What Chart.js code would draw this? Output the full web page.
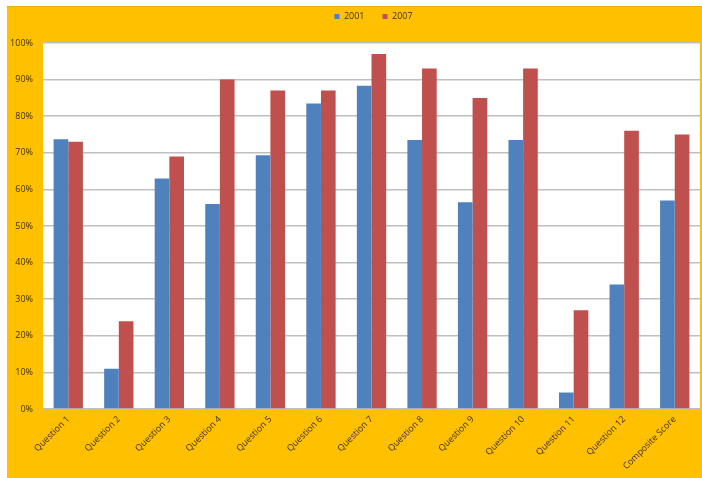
<!DOCTYPE html>
<html>
<head>
<meta charset="utf-8">
<script src="https://cdn.jsdelivr.net/npm/chart.js@4.4.1/dist/chart.umd.min.js"></script>
<style>
html,body{margin:0;padding:0;background:#fff;}
#wrap{position:absolute;left:0;top:0;width:702px;height:478px;}
</style>
</head>
<body>
<div id="wrap"><canvas id="c" width="702" height="478"></canvas></div>
<script>
const categories = ["Question 1","Question 2","Question 3","Question 4","Question 5","Question 6","Question 7","Question 8","Question 9","Question 10","Question 11","Question 12","Composite Score"];
const seriesNames = ["2001","2007"];
const values2001 = [73.7, 11, 63, 56, 69.3, 83.5, 88.3, 73.5, 56.5, 73.5, 4.5, 34, 57];
const values2007 = [73, 24, 69, 90, 87, 87, 97, 93, 85, 93, 27, 76, 75];
const yTicks = [0,10,20,30,40,50,60,70,80,90,100];

const bgPlugin = {
  id: 'bg',
  beforeDraw(chart){
    const ctx = chart.ctx;
    ctx.save();
    ctx.fillStyle = '#ffffff';
    ctx.fillRect(0,0,chart.width,chart.height);
    ctx.fillStyle = '#ffc000';
    ctx.fillRect(7,6,chart.width-7,chart.height-6);
    ctx.fillStyle = '#e6ac00';
    ctx.fillRect(7,6,chart.width-7,1);
    const a = chart.chartArea;
    ctx.fillStyle = '#ffffff';
    ctx.fillRect(a.left,a.top,a.right-a.left,a.bottom-a.top);
    ctx.restore();
  }
};
const legendShift = {
  id: 'legendShift',
  afterLayout(chart){
    const l = chart.legend;
    if (l){ l.left += 20; l.right += 20; l.top -= 12; l.bottom -= 12; }
  }
};

const txt = '#3d2f00';
new Chart(document.getElementById('c'), {
  type: 'bar',
  data: {
    labels: categories,
    datasets: [
      {label: seriesNames[0], data: values2001, backgroundColor: '#4f81bd', categoryPercentage: 0.58, barPercentage: 1.0},
      {label: seriesNames[1], data: values2007, backgroundColor: '#c0504d', categoryPercentage: 0.58, barPercentage: 1.0}
    ]
  },
  options: {
    responsive: false,
    animation: false,
    devicePixelRatio: 1,
    layout: {padding: {left: 7, top: 6, right: 2, bottom: 0}},
    plugins: {
      legend: {
        position: 'top',
        labels: {boxWidth: 5, boxHeight: 5, padding: 18, color: txt, font: {family: 'Open Sans', size: 9}}
      },
      tooltip: {enabled: false}
    },
    scales: {
      x: {
        grid: {display: false, drawTicks: false},
        border: {color: '#bfbfbf'},
        ticks: {color: txt, font: {family: 'Open Sans', size: 9}, minRotation: 45, maxRotation: 45, autoSkip: false, padding: 5},
        afterFit(s){ s.height = 69; }
      },
      y: {
        min: 0, max: 100,
        afterBuildTicks(s){ s.ticks = yTicks.map(v => ({value: v})); },
        grid: {color: '#bfbfbf', lineWidth: 1.5, drawTicks: false},
        border: {display: false},
        ticks: {color: txt, font: {family: 'Open Sans', size: 9}, padding: 10, callback: v => v + '%'},
        afterFit(s){ s.width = 36; }
      }
    }
  },
  plugins: [bgPlugin, legendShift]
});
</script>
</body>
</html>
